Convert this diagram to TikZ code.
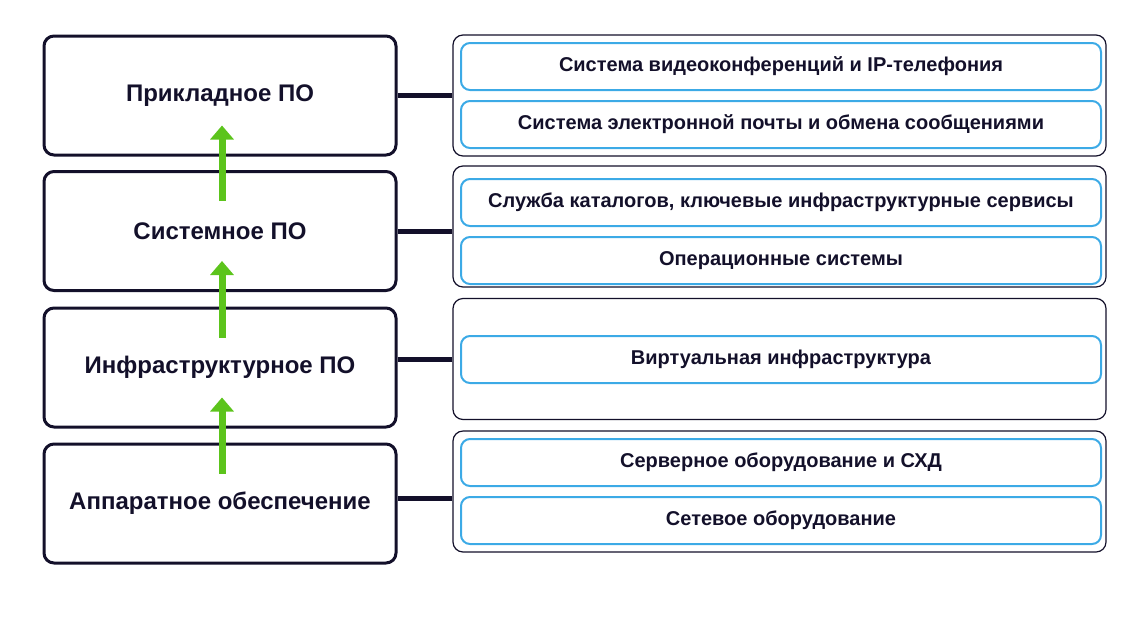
\documentclass[tikz,border=0pt]{standalone}
\usepackage{fontspec}
\setmainfont{Liberation Sans}
\usetikzlibrary{arrows.meta}
\definecolor{ink}{HTML}{13102A}
\definecolor{sky}{HTML}{3CAAE6}
\definecolor{leaf}{HTML}{5CC41C}
\begin{document}
\begin{tikzpicture}[x=1pt,y=-1pt,
    level node/.style={draw=ink,line width=3pt,rounded corners=10pt,minimum width=352pt,
                       minimum height=119pt,inner sep=0pt,text=ink,font=\fontsize{24}{28}\selectfont\bfseries},
    group node/.style={draw=ink,line width=1.2pt,rounded corners=10pt,minimum width=653pt,
                       minimum height=121pt,inner sep=0pt},
    item node/.style={draw=sky,line width=2pt,rounded corners=9pt,minimum width=640pt,
                      minimum height=47pt,inner sep=0pt,text=ink,font=\fontsize{20}{24}\selectfont\bfseries},
    link/.style={draw=ink,line width=5pt},
    lift/.style={draw=leaf,line width=7pt,-{Triangle[width=23pt,length=14pt]}}]
  \useasboundingbox (0,0) rectangle (1145,630);
  % levels
  \node[level node] (app) at (220,95.5) {Прикладное ПО};
  \node[level node] (sys) at (220,231) {Системное ПО};
  \node[level node] (inf) at (220,367.5) {Инфраструктурное ПО};
  \node[level node] (hw) at (220,503.5) {Аппаратное обеспечение};
  % groups
  \node[group node] (gapp) at (779.5,95.5) {};
  \node[group node] (gsys) at (779.5,226.5) {};
  \node[group node] (ginf) at (779.5,359) {};
  \node[group node] (ghw) at (779.5,491.5) {};
  % items
  \node[item node] (video) at (781,66.5) {Система видеоконференций и IP-телефония};
  \node[item node] (mail) at (781,124.5) {Система электронной почты и обмена сообщениями};
  \node[item node] (dir) at (781,202.5) {Служба каталогов, ключевые инфраструктурные сервисы};
  \node[item node] (os) at (781,260.5) {Операционные системы};
  \node[item node] (virt) at (781,359.5) {Виртуальная инфраструктура};
  \node[item node] (srv) at (781,462.5) {Серверное оборудование и СХД};
  \node[item node] (net) at (781,520.5) {Сетевое оборудование};
  % links to groups
  \draw[link] (app.east) -- (gapp.west);
  \draw[link] (sys.east) -- (sys.east -| gsys.west);
  \draw[link] (ginf.west) -- (ginf.west -| inf.east);
  \draw[link] ([yshift=-6.5pt]ghw.west) -- ([yshift=-6.5pt]ghw.west -| hw.east);
  % green arrows
  \draw[lift] ([xshift=2pt,yshift=-31pt]sys.north) -- ([xshift=2pt,yshift=31pt]app.south);
  \draw[lift] ([xshift=2pt,yshift=-31pt]inf.north) -- ([xshift=2pt,yshift=31pt]sys.south);
  \draw[lift] ([xshift=2pt,yshift=-31pt]hw.north) -- ([xshift=2pt,yshift=31pt]inf.south);
\end{tikzpicture}
\end{document}
